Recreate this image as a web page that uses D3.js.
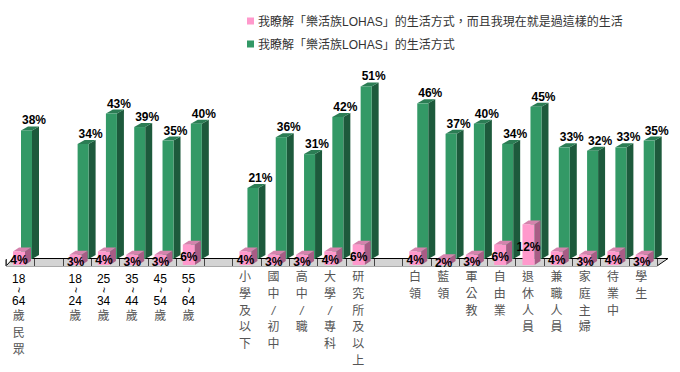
<!DOCTYPE html>
<html>
<head>
<meta charset="utf-8">
<script src="https://cdn.jsdelivr.net/npm/d3@7"></script>
<style>
body { margin: 0; background: #fff; }
svg { display: block; }
</style>
</head>
<body>
<div id="container"></div>
<script>
var width = 680;
var height = 372;

// categories, blank ones are the gaps between groups
var categories = ["18~64歲民眾", "", "18~24歲", "25~34歲", "35~44歲", "45~54歲", "55~64歲", "",
    "小學及以下", "國中/初中", "高中/職", "大學/專科", "研究所及以上", "",
    "白領", "藍領", "軍公教", "自由業", "退休人員", "兼職人員", "家庭主婦", "待業中", "學生"];

var seriesNames = ["我瞭解「樂活族LOHAS」的生活方式，而且我現在就是過這樣的生活",
    "我瞭解「樂活族LOHAS」的生活方式"];

var livingValues = [4, null, 3, 4, 3, 3, 6, null, 4, 3, 3, 4, 6, null, 4, 2, 3, 6, 12, 4, 3, 4, 3];
var knowValues = [38, null, 34, 43, 39, 35, 40, null, 21, 36, 31, 42, 51, null, 46, 37, 40, 34, 45, 33, 32, 33, 35];

var pink = { front: "#ff99cc", side: "#a85c85", top: "#d583ad" };
var green = { front: "#339966", side: "#1d5a3c", top: "#2b7d54" };

var font = "'Liberation Sans', Arial, 'Noto Sans CJK TC', sans-serif";
var cjkFont = "'Noto Sans CJK TC', 'Liberation Sans', sans-serif";

var x = d3.scaleBand().domain(d3.range(categories.length)).range([6, 657]);
var y = d3.scaleLinear().domain([0, 60]).range([0, 203]);

var greenBase = 259, pinkBase = 265;

const svg = d3.create("svg")
    .attr("width", width)
    .attr("height", height);

// legend
var legend = svg.append("g");
[pink, green].forEach(function(c, i) {
    legend.append("rect")
        .attr("x", 247).attr("y", 17.5 + i * 23)
        .attr("width", 7).attr("height", 7)
        .attr("fill", c.front);
    legend.append("text")
        .attr("x", 258).attr("y", 26 + i * 23)
        .attr("font-family", font).attr("font-size", 12)
        .attr("fill", "#333")
        .text(seriesNames[i]);
});

// floor
var floor = svg.append("g");
floor.append("polygon")
    .attr("points", "6,266 657,266 668,258 13,258")
    .attr("fill", "#d4d4d4");
floor.append("line").attr("x1", 6).attr("y1", 266.5).attr("x2", 657).attr("y2", 266.5)
    .attr("stroke", "#aaa");
floor.append("polyline")
    .attr("points", "6,259.5 6,266 13,258.5 668,258.5 657,266")
    .attr("fill", "none").attr("stroke", "#000").attr("stroke-width", 1);
floor.selectAll(".tick").data(d3.range(categories.length + 1)).enter()
    .append("line")
    .attr("x1", function(i) { return Math.round(6 + i * x.bandwidth()) + 0.5; })
    .attr("x2", function(i) { return Math.round(6 + i * x.bandwidth()) + 0.5; })
    .attr("y1", 259).attr("y2", 266)
    .attr("stroke", "#444");

function bar3d(g, x0, w, base, h, dx, dy, c) {
    var top = base - h;
    g.append("polygon")
        .attr("points", [[x0 + w, top], [x0 + w + dx, top - dy], [x0 + w + dx, base - dy], [x0 + w, base]].join(" "))
        .attr("fill", c.side);
    g.append("polygon")
        .attr("points", [[x0, top], [x0 + dx, top - dy], [x0 + w + dx, top - dy], [x0 + w, top]].join(" "))
        .attr("fill", c.top);
    g.append("rect")
        .attr("x", x0).attr("y", top)
        .attr("width", w).attr("height", h)
        .attr("fill", c.front);
}

var bars = svg.append("g");
categories.forEach(function(cat, i) {
    if (knowValues[i] == null) return;
    var b = x(i);
    bar3d(bars, b + 15, 11, greenBase, y(knowValues[i]), 7, 4, green);
    bar3d(bars, b + 7, 12, pinkBase, y(livingValues[i]), 6, 4, pink);
});

// value labels
var labels = svg.append("g")
    .attr("font-family", font).attr("font-size", 12)
    .attr("font-weight", "bold").attr("text-anchor", "middle");
categories.forEach(function(cat, i) {
    if (knowValues[i] == null) return;
    var b = x(i);
    labels.append("text")
        .attr("x", b + 15 + 5.5 + 7.5)
        .attr("y", greenBase - y(knowValues[i]) - 6)
        .text(knowValues[i] + "%");
    var h = Math.max(y(livingValues[i]), 8);
    labels.append("text")
        .attr("x", b + 7 + 6)
        .attr("y", pinkBase - h / 2 + 2)
        .attr("dy", "0.32em")
        .text(livingValues[i] + "%");
});

// category labels, written top to bottom
var axis = svg.append("g").attr("text-anchor", "middle");
categories.forEach(function(cat, i) {
    if (!cat) return;
    var cx = x(i) + x.bandwidth() / 2 - 1.5;
    var tokens = cat.match(/\d+|./g);
    var cy = 0, prev = null;
    tokens.forEach(function(t, k) {
        var isCjk = !/[\d~]/.test(t);
        if (k == 0) cy = isCjk ? 277 : 279;
        else if (isCjk && prev) cy += 16.7;
        else if (isCjk || prev) cy += 15;
        else cy += 11;
        if (t == "~") {
            axis.append("text")
                .attr("transform", "translate(" + cx + "," + cy + ") rotate(90)")
                .attr("dy", "0.32em")
                .attr("font-family", font).attr("font-size", 10)
                .attr("fill", "#000")
                .text("~");
        } else {
            axis.append("text")
                .attr("x", cx).attr("y", cy)
                .attr("dy", "0.36em")
                .attr("font-family", isCjk && t != "/" ? cjkFont : font)
                .attr("font-size", 12)
                .attr("font-style", t == "/" ? "italic" : null)
                .attr("fill", isCjk ? "#555" : "#000")
                .text(t);
        }
        prev = isCjk;
    });
});

document.getElementById("container").append(svg.node());
</script>
</body>
</html>
